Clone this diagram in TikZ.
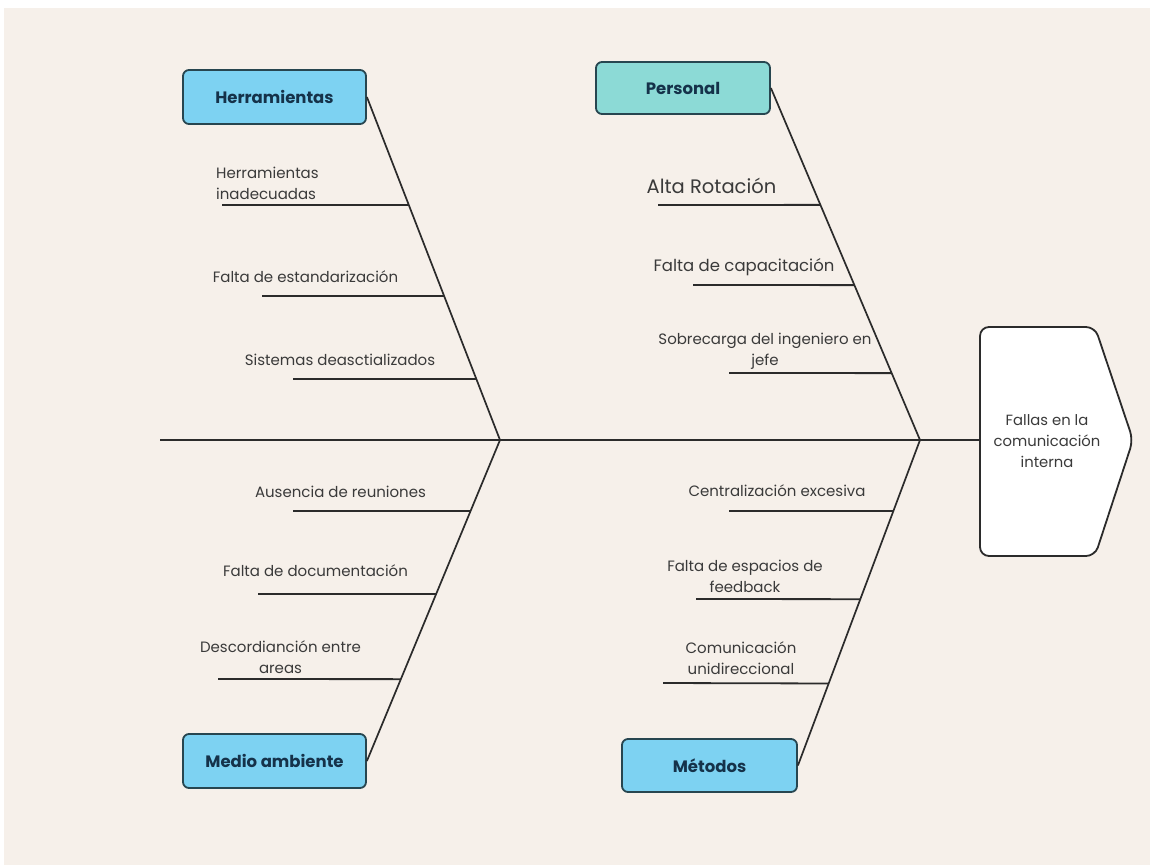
\documentclass[tikz,border=0pt]{standalone}
\usepackage{fontspec}
\setmainfont{Poppins}
\usetikzlibrary{calc}
\definecolor{bg}{HTML}{F6F0EA}
\definecolor{boxblue}{HTML}{7DD2F2}
\definecolor{boxteal}{HTML}{8CDAD6}
\definecolor{boxline}{HTML}{274650}
\definecolor{boxtext}{HTML}{15324A}
\definecolor{bone}{HTML}{2B2B2B}
\definecolor{ribtext}{HTML}{3A3A3A}
\tikzset{
  catbox/.style={draw=boxline, line width=1.8pt, rounded corners=6pt, fill=boxblue,
    minimum width=183pt, minimum height=54pt, inner sep=0pt,
    font=\fontsize{16.5}{19}\selectfont\bfseries, text=boxtext},
  boneline/.style={draw=bone, line width=1.7pt},
  ribline/.style={draw=bone, line width=1.8pt},
  ribtxt/.style={font=\fontsize{15}{21}\selectfont, text=ribtext, align=center, inner sep=0pt},
  bigtxt/.style={font=\fontsize{19.5}{22}\selectfont, text=ribtext, inner sep=0pt},
  headtxt/.style={font=\fontsize{14.8}{21}\selectfont, text=ribtext, align=center, inner sep=0pt},
}
\begin{document}
\begin{tikzpicture}[x=1pt,y=-1pt]
\useasboundingbox (0,0) rectangle (1150,865);
\fill[white] (0,0) rectangle (1150,865);
\fill[bg] (4,8) rectangle (1150,865);

% category boxes
\node[catbox] (H) at (274.5,97) {Herramientas};
\node[catbox, fill=boxteal, minimum width=174pt, minimum height=52pt] (P) at (683,88) {Personal};
\node[catbox] (M) at (274.5,761) {Medio ambiente};
\node[catbox, minimum width=175pt, minimum height=53pt] (Me) at (709.5,765.5) {Métodos};

% junctions and spine
\coordinate (tail) at (160,440);
\coordinate (jL) at (500,440);
\coordinate (jR) at (920,440);
\coordinate (headW) at (980,440);

% head
\draw[draw=bone, line width=1.8pt, fill=white, rounded corners=9pt]
  (980,440) -- (980,327) -- (1095,327) -- (1133,440) -- (1095,556) -- (980,556) -- cycle;
\node[headtxt] (head) at (1047,441) {Fallas en la\\comunicación\\interna};

\draw[boneline] (tail) -- (headW);
\draw[boneline] (H.east) -- (jL);
\draw[boneline] (M.east) -- (jL);
\draw[boneline] (P.east) -- (jR);
\draw[boneline] (Me.east) -- (jR);

% ribs: Herramientas
\coordinate (a1) at (222,205);
\coordinate (a2) at (262,296);
\coordinate (a3) at (293,379);
\draw[ribline] (a1) -- ($(H.east)!0.315!(jL)$);
\draw[ribline] (a2) -- ($(H.east)!0.580!(jL)$);
\draw[ribline] (a3) -- ($(H.east)!0.822!(jL)$);
\node[ribtxt, anchor=west, align=left] (ta1) at (216,183) {Herramientas\\inadecuadas};
\node[ribtxt] (ta2) at (305.5,277) {Falta de estandarización};
\node[ribtxt] (ta3) at (340,360) {Sistemas deasctializados};

% ribs: Medio ambiente
\coordinate (b1) at (293,511);
\coordinate (b2) at (258,594);
\coordinate (b3) at (218,679);
\draw[ribline] (b1) -- ($(M.east)!0.779!(jL)$);
\draw[ribline] (b2) -- ($(M.east)!0.520!(jL)$);
\draw[ribline] (b3) -- ($(M.east)!0.255!(jL)$);
\node[ribtxt] (tb1) at (340.5,492) {Ausencia de reuniones};
\node[ribtxt] (tb2) at (315.5,571) {Falta de documentación};
\node[ribtxt] (tb3) at (280.5,657) {Descordianción entre\\areas};

% ribs: Personal
\coordinate (c1) at (658,205);
\coordinate (c2) at (693,285);
\coordinate (c3) at (729,373);
\draw[ribline] (c1) -- ($(P.east)!0.332!(jR)$);
\draw[ribline] (c2) -- ($(P.east)!0.560!(jR)$);
\draw[ribline] (c3) -- ($(P.east)!0.810!(jR)$);
\node[bigtxt] (tc1) at (711.5,186) {Alta Rotación};
\node[bigtxt, font=\fontsize{16.5}{19}\selectfont] (tc2) at (744,267) {Falta de capacitación};
\node[ribtxt] (tc3) at (765,351) {Sobrecarga del ingeniero en\\jefe};

% ribs: Métodos
\coordinate (d1) at (729,511);
\coordinate (d2) at (696,599);
\coordinate (d3) at (663,683);
\draw[ribline] (d1) -- ($(Me.east)!0.782!(jR)$);
\draw[ribline] (d2) -- ($(Me.east)!0.511!(jR)$);
\draw[ribline] (d3) -- ($(Me.east)!0.252!(jR)$);
\node[ribtxt] (td1) at (777,491) {Centralización excesiva};
\node[ribtxt] (td2) at (745,576) {Falta de espacios de\\feedback};
\node[ribtxt] (td3) at (741,658) {Comunicación\\unidireccional};
\end{tikzpicture}
\end{document}
